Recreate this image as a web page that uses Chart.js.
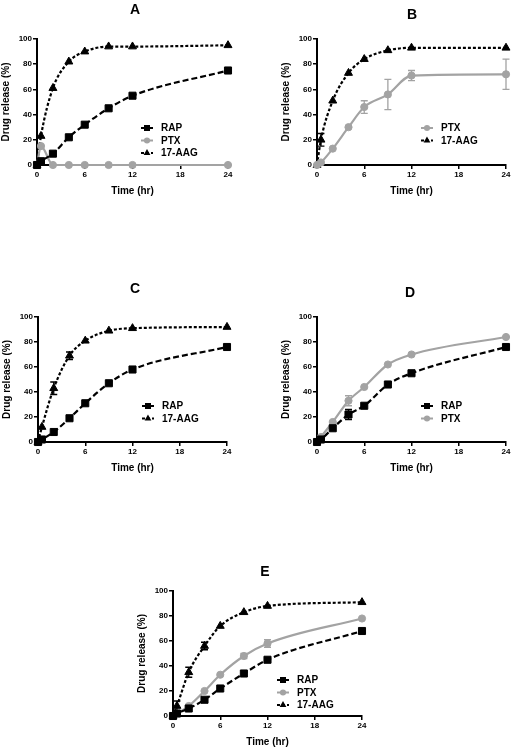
<!DOCTYPE html>
<html><head><meta charset="utf-8">
<script src="https://cdn.jsdelivr.net/npm/chart.js@4.4.0/dist/chart.umd.min.js"></script>
<style>
html,body{margin:0;padding:0;background:#fff;width:513px;height:750px;overflow:hidden;position:relative;}
canvas{position:absolute;}
</style></head><body>
<canvas id="cA"></canvas><canvas id="cB"></canvas><canvas id="cC"></canvas><canvas id="cD"></canvas><canvas id="cE"></canvas>
<script>
// ---- data ----
const timeHr = [0, 0.5, 2, 4, 6, 9, 12, 24];
const xTickLabels = [0, 6, 12, 18, 24];
const yTickLabels = [0, 20, 40, 60, 80, 100];
const panelLabels = ['A', 'B', 'C', 'D', 'E'];
const seriesNames = ['RAP', 'PTX', '17-AAG'];

// Panel A
const A_RAP = [0, 3, 9, 22, 32, 45, 55, 75];
const A_PTX = [0, 15, 0, 0, 0, 0, 0, 0];
const A_AAG = [0, 23, 61, 82, 90, 94, 94, 95];
// Panel B
const B_PTX = [0, 2, 13, 30, 46, 56, 71, 72];
const B_PTX_err = [0, 0, 0, 0, 5, 12, 4, 12];
const B_AAG = [0, 20, 51, 73, 84, 91, 93, 93];
const B_AAG_err = [0, 5, 0, 0, 0, 0, 0, 0];
// Panel C
const C_RAP = [0, 2, 8, 19, 31, 47, 58, 76];
const C_AAG = [0, 12, 43, 69, 81, 89, 91, 92];
const C_AAG_err = [0, 0, 5, 3, 0, 0, 0, 0];
// Panel D
const D_RAP = [0, 2, 11, 22, 29, 46, 55, 76];
const D_RAP_err = [0, 0, 0, 4, 0, 0, 0, 0];
const D_PTX = [0, 4, 16, 33, 44, 62, 70, 84];
const D_PTX_err = [0, 0, 0, 4, 0, 0, 0, 0];
// Panel E
const E_RAP = [0, 2, 6, 13, 22, 34, 45, 68];
const E_PTX = [0, 2, 8, 20, 33, 48, 58, 78];
const E_PTX_err = [0, 0, 0, 0, 0, 2, 3, 0];
const E_AAG = [0, 8, 35, 56, 72, 83, 88, 91];
const E_AAG_err = [0, 4, 4, 3, 0, 0, 0, 0];

// ---- styles ----
const FONT = "'Liberation Sans', Arial, sans-serif";
const GRAY = '#a3a3a3';
const STY = {
  RAP: {color: '#000', dash: [6, 3], point: 'rect', r: 5},
  PTX: {color: GRAY, dash: [], point: 'circle', r: 3.6},
  '17-AAG': {color: '#000', dash: [3, 2], point: 'triangle', r: 4.6}
};

function ds(name, values, errors) {
  const s = STY[name];
  return {
    label: name,
    data: timeHr.map((t, i) => ({x: t, y: values[i]})),
    errors: errors || null,
    borderColor: s.color, backgroundColor: s.color,
    borderWidth: 2.2, borderDash: s.dash,
    pointStyle: s.point, pointRadius: s.r, pointBorderWidth: 1,
    pointBackgroundColor: s.color, pointBorderColor: s.color,
    cubicInterpolationMode: 'monotone', clip: false, fill: false
  };
}

function drawMarker(ctx, style, x, y, r, color) {
  ctx.save();
  ctx.setLineDash([]);
  ctx.fillStyle = color;
  ctx.beginPath();
  if (style === 'rect') {
    const s = Math.SQRT1_2 * r;
    ctx.rect(x - s, y - s, 2 * s, 2 * s);
  } else if (style === 'circle') {
    ctx.arc(x, y, r, 0, Math.PI * 2);
  } else {
    ctx.moveTo(x, y - r);
    ctx.lineTo(x + r * Math.cos(Math.PI / 6), y + r / 2);
    ctx.lineTo(x - r * Math.cos(Math.PI / 6), y + r / 2);
    ctx.closePath();
  }
  ctx.fill();
  ctx.restore();
}

const decoPlugin = {
  id: 'deco',
  beforeDatasetsDraw(chart) {
    const ctx = chart.ctx, xs = chart.scales.x, ys = chart.scales.y;
    chart.data.datasets.forEach(d => {
      if (!d.errors) return;
      ctx.save();
      ctx.strokeStyle = d.borderColor; ctx.lineWidth = 1.3; ctx.setLineDash([]);
      d.data.forEach((p, i) => {
        const e = d.errors[i];
        if (!e) return;
        const x = xs.getPixelForValue(p.x);
        const y1 = ys.getPixelForValue(p.y + e), y2 = ys.getPixelForValue(p.y - e);
        ctx.beginPath();
        ctx.moveTo(x, y1); ctx.lineTo(x, y2);
        ctx.moveTo(x - 3.5, y1); ctx.lineTo(x + 3.5, y1);
        ctx.moveTo(x - 3.5, y2); ctx.lineTo(x + 3.5, y2);
        ctx.stroke();
      });
      ctx.restore();
    });
  },
  afterDraw(chart) {
    const o = chart.options.plugins.deco;
    const ctx = chart.ctx, ca = chart.chartArea;
    ctx.save();
    // panel title
    ctx.fillStyle = '#000';
    ctx.font = 'bold 14px ' + FONT;
    ctx.textAlign = 'center'; ctx.textBaseline = 'middle';
    ctx.fillText(o.title, ca.left + o.tdx, ca.top - o.tdy);
    // legend
    const lx = ca.left + 104, ly0 = ca.top + 89, step = 12.5;
    ctx.font = 'bold 10px ' + FONT;
    ctx.textAlign = 'left';
    chart.data.datasets.forEach((d, i) => {
      const y = ly0 + i * step;
      const s = STY[d.label];
      ctx.strokeStyle = s.color; ctx.lineWidth = 2; ctx.setLineDash(s.dash);
      ctx.beginPath(); ctx.moveTo(lx, y); ctx.lineTo(lx + 12, y); ctx.stroke();
      drawMarker(ctx, s.point, lx + 6, y, s.r * 0.85, s.color);
      ctx.fillStyle = '#000';
      ctx.fillText(d.label, lx + 20, y + 0.5);
    });
    ctx.restore();
  }
};

function makePanel(id, area, title, tdx, tdy, datasets) {
  const cv = document.getElementById(id);
  const padL = 40, padT = 40, padR = 6, padB = 40;
  cv.width = area.R - area.L + padL + padR;
  cv.height = area.B - area.T + padT + padB;
  cv.style.left = (area.L - padL) + 'px';
  cv.style.top = (area.T - padT) + 'px';
  const tickFont = {family: FONT, size: 8, weight: 'bold'};
  const titleFont = {family: FONT, size: 10, weight: 'bold'};
  const grid = {display: true, drawOnChartArea: false, drawTicks: true, tickLength: 4, color: '#000', lineWidth: 1.5};
  const border = {display: true, color: '#000', width: 2};
  new Chart(cv, {
    type: 'line',
    data: {datasets},
    options: {
      responsive: false, animation: false, events: [],
      layout: {padding: {left: 0, top: padT, right: padR, bottom: 0}},
      plugins: {legend: {display: false}, tooltip: {enabled: false}, deco: {title, tdx, tdy}},
      scales: {
        x: {
          type: 'linear', min: 0, max: 24,
          afterFit(s) { s.height = padB; },
          afterBuildTicks(s) { s.ticks = xTickLabels.map(v => ({value: v})); },
          ticks: {font: tickFont, color: '#000', padding: 1, autoSkip: false, maxRotation: 0},
          grid, border,
          title: {display: true, text: 'Time (hr)', font: titleFont, color: '#000', padding: {top: 0, bottom: 8}}
        },
        y: {
          type: 'linear', min: 0, max: 100,
          afterFit(s) { s.width = padL; },
          afterBuildTicks(s) { s.ticks = yTickLabels.map(v => ({value: v})); },
          ticks: {font: tickFont, color: '#000', padding: 1, autoSkip: false},
          grid, border,
          title: {display: true, text: 'Drug release (%)', font: titleFont, color: '#000', padding: {top: 3, bottom: 0}}
        }
      }
    },
    plugins: [decoPlugin]
  });
}

makePanel('cA', {L: 37, T: 39, R: 228, B: 165}, panelLabels[0], 98, 29,
  [ds('RAP', A_RAP), ds('PTX', A_PTX), ds('17-AAG', A_AAG)]);
makePanel('cB', {L: 317, T: 39, R: 506, B: 165}, panelLabels[1], 95, 24,
  [ds('PTX', B_PTX, B_PTX_err), ds('17-AAG', B_AAG, B_AAG_err)]);
makePanel('cC', {L: 38, T: 317, R: 227, B: 442}, panelLabels[2], 97, 28,
  [ds('RAP', C_RAP), ds('17-AAG', C_AAG, C_AAG_err)]);
makePanel('cD', {L: 317, T: 317, R: 506, B: 442}, panelLabels[3], 93, 24,
  [ds('RAP', D_RAP, D_RAP_err), ds('PTX', D_PTX, D_PTX_err)]);
makePanel('cE', {L: 173, T: 591, R: 362, B: 716}, panelLabels[4], 92, 19,
  [ds('RAP', E_RAP), ds('PTX', E_PTX, E_PTX_err), ds('17-AAG', E_AAG, E_AAG_err)]);
</script>
</body></html>
